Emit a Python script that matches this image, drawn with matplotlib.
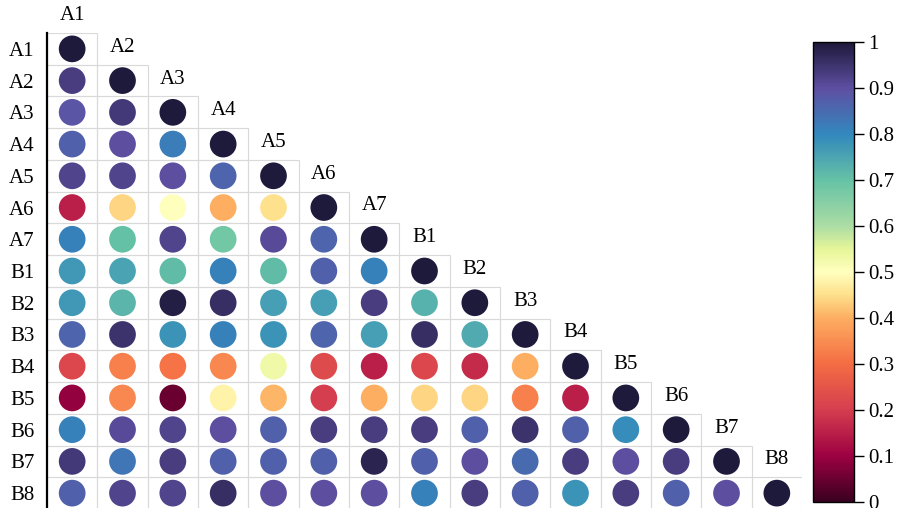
import numpy as np
import matplotlib
matplotlib.use("Agg")
import matplotlib.pyplot as plt
from matplotlib.colors import LinearSegmentedColormap, Normalize
from matplotlib.patches import Rectangle
from matplotlib.colorbar import ColorbarBase

plt.rcParams['font.family'] = ['Liberation Serif', 'DejaVu Serif']

names = ['A1', 'A2', 'A3', 'A4', 'A5', 'A6', 'A7',
         'B1', 'B2', 'B3', 'B4', 'B5', 'B6', 'B7', 'B8']

# lower triangle of the correlation matrix, row by row
rows = [
    [1.00],
    [0.93, 1.00],
    [0.89, 0.94, 1.00],
    [0.87, 0.90, 0.82, 1.00],
    [0.92, 0.92, 0.90, 0.86, 1.00],
    [0.15, 0.44, 0.50, 0.40, 0.45, 1.00],
    [0.81, 0.70, 0.92, 0.68, 0.91, 0.86, 1.00],
    [0.77, 0.75, 0.71, 0.81, 0.71, 0.87, 0.81, 1.00],
    [0.77, 0.72, 0.99, 0.96, 0.76, 0.76, 0.93, 0.73, 1.00],
    [0.86, 0.95, 0.78, 0.81, 0.78, 0.86, 0.76, 0.96, 0.74, 1.00],
    [0.22, 0.33, 0.31, 0.34, 0.53, 0.23, 0.15, 0.22, 0.17, 0.40, 1.00],
    [0.09, 0.34, 0.05, 0.48, 0.41, 0.20, 0.40, 0.44, 0.44, 0.33, 0.15, 1.00],
    [0.81, 0.91, 0.92, 0.90, 0.87, 0.93, 0.93, 0.93, 0.87, 0.95, 0.87, 0.79, 1.00],
    [0.94, 0.83, 0.93, 0.87, 0.87, 0.87, 0.98, 0.87, 0.90, 0.85, 0.93, 0.90, 0.93, 1.00],
    [0.87, 0.92, 0.92, 0.96, 0.90, 0.90, 0.90, 0.81, 0.93, 0.87, 0.78, 0.93, 0.87, 0.90, 1.00],
]

cbar_ticks = [0, 0.1, 0.2, 0.3, 0.4, 0.5, 0.6, 0.7, 0.8, 0.9, 1]
cbar_labels = ['0', '0.1', '0.2', '0.3', '0.4', '0.5', '0.6', '0.7', '0.8', '0.9', '1']

# Spectral with darker ends
cmap = LinearSegmentedColormap.from_list('spec_dark', [
    (0.00, '#3a0020'), (0.10, '#9e0142'), (0.20, '#d53e4f'),
    (0.30, '#f46d43'), (0.40, '#fdae61'), (0.45, '#fee08b'),
    (0.50, '#ffffbf'), (0.55, '#e6f598'), (0.60, '#abdda4'),
    (0.70, '#66c2a5'), (0.80, '#3288bd'), (0.90, '#5e4fa2'),
    (1.00, '#1e1a3c')])
norm = Normalize(0, 1)

fig = plt.figure(figsize=(9, 5.08), dpi=100)
ax = fig.add_axes([47 / 900, -1 / 508, 755 / 900, 476 / 508])

n = len(names)
xs, ys, vs = [], [], []
for i, row in enumerate(rows):
    for j, v in enumerate(row):
        ax.add_patch(Rectangle((j - 0.5, i - 0.5), 1, 1, facecolor='none',
                               edgecolor='#d9d9d9', lw=0.8, zorder=1))
        xs.append(j)
        ys.append(i)
        vs.append(v)

ax.scatter(xs, ys, c=vs, cmap=cmap, norm=norm, s=370, linewidths=0, zorder=2)

# column names sit just above the diagonal
for i, nm in enumerate(names):
    ax.text(i, i - 1.05, nm, ha='center', va='center', fontsize=15, clip_on=False)

ax.set_xlim(-0.5, n - 0.5)
ax.set_ylim(n - 0.5, -0.5)
ax.set_xticks([])
ax.set_yticks(range(n))
ax.set_yticklabels(names, fontsize=15)
ax.tick_params(axis='y', length=0, pad=9)
for s in ['top', 'right', 'bottom']:
    ax.spines[s].set_visible(False)
ax.spines['left'].set_linewidth(1.6)

cax = fig.add_axes([813 / 900, 6 / 508, 41 / 900, 460 / 508])
cb = ColorbarBase(cax, cmap=cmap, norm=norm, ticks=cbar_ticks)
cb.ax.set_yticklabels(cbar_labels, fontsize=15)
cb.ax.tick_params(length=7, width=1, pad=3)
cb.outline.set_linewidth(1)

fig.savefig('out.png', dpi=100)
